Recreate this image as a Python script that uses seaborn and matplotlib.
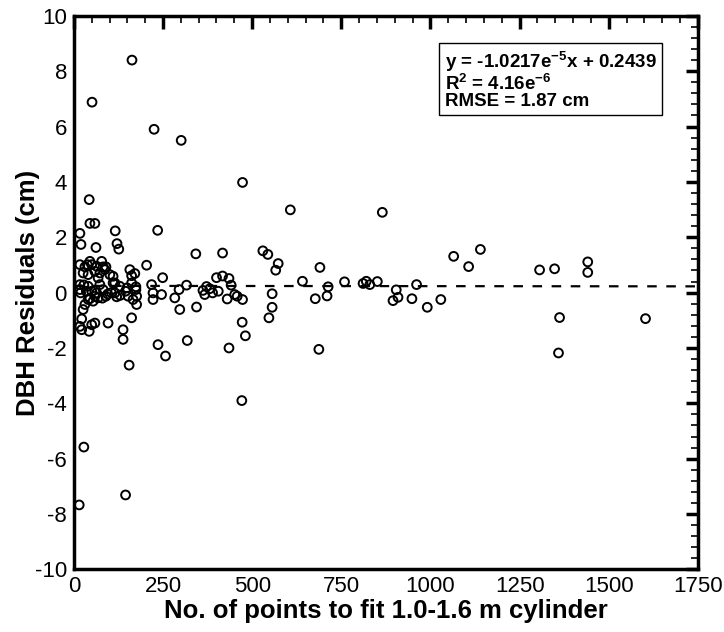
import matplotlib
matplotlib.use("Agg")
import matplotlib.pyplot as plt
import seaborn as sns
import pandas as pd
from matplotlib.ticker import MultipleLocator

# ---- data ----
n_points = [
    163, 51, 225, 301, 43, 45, 59, 17, 20, 62, 116, 121, 126, 235, 342, 417, 473, 607, 865, 204, 249,
    530, 544, 573, 566, 690, 1065, 1140, 1107, 1306, 1348, 1441, 1441,
    400, 417, 435, 441,
    362, 372, 381, 389, 405, 367,
    430, 451, 458, 473,
    556, 556, 547, 472, 481, 435, 687, 471,
    641, 677, 710, 713, 759, 811, 820, 830, 851, 904, 909, 895, 961, 948, 991, 1029,
    1362, 1359, 1603,
    236, 257, 318, 155, 138, 138, 162, 145, 15, 28,
    297, 344, 283, 295, 316, 222, 246, 222, 218,
    96, 26, 22, 17, 22, 43, 50, 59, 31,
    17, 31, 45, 50, 64, 78, 82, 87, 26, 40, 59, 73, 101, 110, 157, 171, 162, 38, 90, 68,
    17, 19, 17, 40, 50, 59, 68, 54, 40, 73, 82, 90, 64,
    110, 115, 129, 149, 174, 176, 166, 176, 152, 162, 174, 115,
    28, 35, 45, 80, 95, 105, 120, 130, 145,
]
residuals = [
    8.40, 6.88, 5.90, 5.50, 3.36, 2.50, 2.50, 2.14, 1.74, 1.63, 2.23, 1.77, 1.57, 2.25, 1.40, 1.43, 3.98, 2.99, 2.90, 0.99, 0.54,
    1.51, 1.38, 1.05, 0.81, 0.91, 1.31, 1.56, 0.94, 0.82, 0.86, 1.11, 0.73,
    0.54, 0.60, 0.51, 0.27,
    0.08, 0.22, 0.14, -0.01, 0.05, -0.07,
    -0.23, -0.07, -0.13, -0.25,
    -0.04, -0.53, -0.91, -1.07, -1.56, -2.00, -2.05, -3.90,
    0.41, -0.22, -0.12, 0.21, 0.39, 0.33, 0.41, 0.29, 0.40, 0.10, -0.17, -0.29, 0.29, -0.22, -0.53, -0.25,
    -0.90, -2.18, -0.94,
    -1.88, -2.29, -1.73, -2.62, -1.69, -1.34, -0.91, -7.31, -7.67, -5.58,
    -0.61, -0.52, -0.19, 0.11, 0.27, -0.01, -0.07, -0.25, 0.29,
    -1.10, -0.61, -0.95, -1.22, -1.34, -1.40, -1.16, -1.10, -0.43,
    1.01, 0.93, 1.13, 1.01, 0.95, 1.13, 0.93, 0.83, 0.71, 0.65, 0.77, 0.71, 0.65, 0.59, 0.83, 0.69, 0.61, 1.01, 0.93, 0.53,
    0.29, -0.01, 0.11, 0.23, 0.05, -0.13, -0.19, -0.31, -0.25, 0.29, 0.11, -0.13, -0.01,
    0.35, -0.01, 0.23, 0.17, 0.21, -0.13, -0.25, -0.43, -0.13, 0.35, 0.11, 0.35,
    0.28, 0.05, -0.22, -0.20, -0.05, 0.00, -0.15, -0.10, 0.05,
]
fit_slope = -1.0217e-5
fit_intercept = 0.2439
stats_lines = [
    r"y = -1.0217e$^{-5}$x + 0.2439",
    r"R$^{2}$ = 4.16e$^{-6}$",
    r"RMSE = 1.87 cm",
]
x_label = "No. of points to fit 1.0-1.6 m cylinder"
y_label = "DBH Residuals (cm)"

df = pd.DataFrame({"n": n_points, "res": residuals})

sns.set_theme(style="white")
plt.rcParams["font.family"] = ["Liberation Sans", "DejaVu Sans"]
plt.rcParams["mathtext.fontset"] = "custom"
plt.rcParams["mathtext.rm"] = "Liberation Sans:bold"
plt.rcParams["mathtext.default"] = "rm"
plt.rcParams["axes.unicode_minus"] = False
plt.rcParams["text.color"] = "black"
plt.rcParams["axes.labelcolor"] = "black"
plt.rcParams["xtick.labelcolor"] = "black"
plt.rcParams["ytick.labelcolor"] = "black"

fig = plt.figure(figsize=(7.24, 6.32), dpi=100)
ax = fig.add_axes([0.102, 0.099, 0.862, 0.876])

sns.scatterplot(data=df, x="n", y="res", ax=ax, marker="o", s=40,
                facecolor="none", edgecolor="black", linewidth=1.4, zorder=3)

ax.axline((0, fit_intercept), slope=fit_slope, color="black", lw=1.6,
          linestyle=(0, (4.3, 4.3)), zorder=2)

ax.set_xlim(0, 1750)
ax.set_ylim(-10, 10)
ax.xaxis.set_major_locator(MultipleLocator(250))
ax.xaxis.set_minor_locator(MultipleLocator(50))
ax.yaxis.set_major_locator(MultipleLocator(2))
ax.yaxis.set_minor_locator(MultipleLocator(0.4))
ax.tick_params(which="both", direction="in", top=True, right=True, colors="black",
               labelcolor="black")
ax.tick_params(which="major", length=9, width=2.5, labelsize=16, pad=5)
ax.tick_params(which="minor", length=5, width=1.2)
for sp in ax.spines.values():
    sp.set_linewidth(2.5)
    sp.set_color("black")

ax.set_xlabel(x_label, fontsize=18.5, fontweight="bold", labelpad=1, color="black")
ax.set_ylabel(y_label, fontsize=18.5, fontweight="bold", labelpad=-4, color="black")

ax.text(0.594, 0.938, "\n".join(stats_lines), transform=ax.transAxes,
        fontsize=13.5, fontweight="bold", va="top", ha="left", linespacing=0.95,
        color="black",
        bbox=dict(boxstyle="square,pad=0.3", facecolor="white", edgecolor="black", lw=1))

fig.savefig("out.png", dpi=100, facecolor="white")
